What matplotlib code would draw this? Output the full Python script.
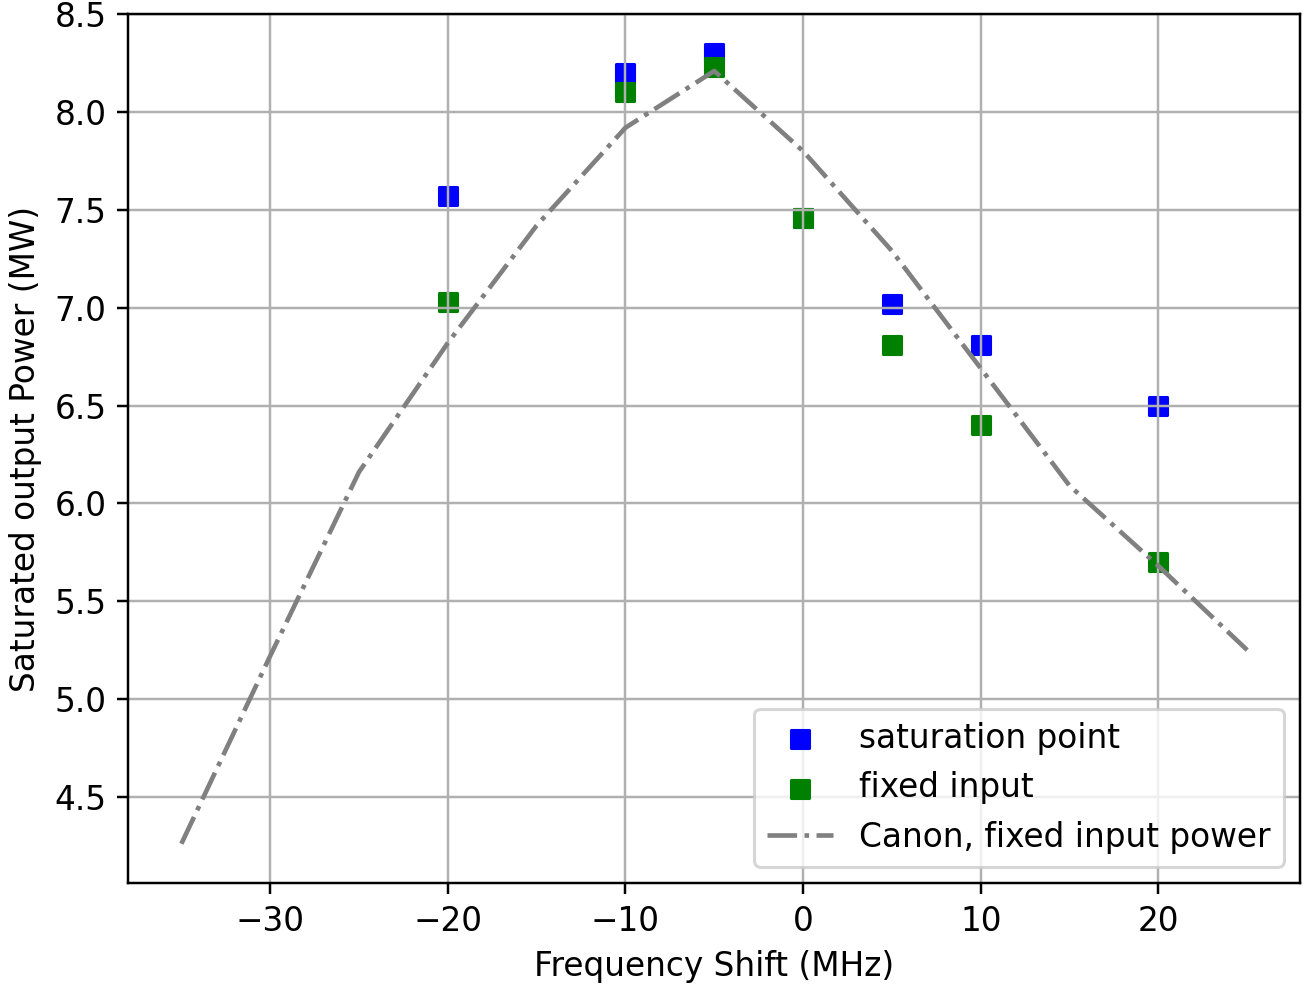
import matplotlib
matplotlib.use('Agg')
import matplotlib.pyplot as plt
import numpy as np

# frequency shift of the measured points (MHz)
shift = [-20, -10, -5, 0, 5, 10, 20]
# measured output power (MW)
sat_point = [7.57, 8.20, 8.30, 7.46, 7.02, 6.81, 6.50]
fixed_input = [7.03, 8.10, 8.23, 7.46, 6.81, 6.40, 5.70]

# simulation curve
canon_shift = [-35, -30, -25, -20, -15, -10, -5, 0, 5, 10, 15, 20, 25]
canon_power = [4.26, 5.22, 6.16, 6.82, 7.42, 7.92, 8.21, 7.80, 7.29, 6.69, 6.09, 5.68, 5.25]

plt.rcParams['font.size'] = 10.65

dpi = 222
fig = plt.figure(figsize=(1307 / dpi, 988 / dpi), dpi=dpi)
ax = fig.add_subplot(1, 1, 1)
fig.subplots_adjust(left=0.098, right=0.995, top=0.986, bottom=0.106)

ax.scatter(shift, sat_point, c='blue', marker='s', label='saturation point')
ax.scatter(shift, fixed_input, c='green', marker='s', label='fixed input')
ax.plot(canon_shift, canon_power, c='gray', linestyle='-.', label='Canon, fixed input power')

ax.set_xlabel('Frequency Shift (MHz)')
ax.set_ylabel('Saturated output Power (MW)')
ax.grid(True)
ax.legend(loc='lower right')

fig.savefig('out.png', dpi=dpi)
